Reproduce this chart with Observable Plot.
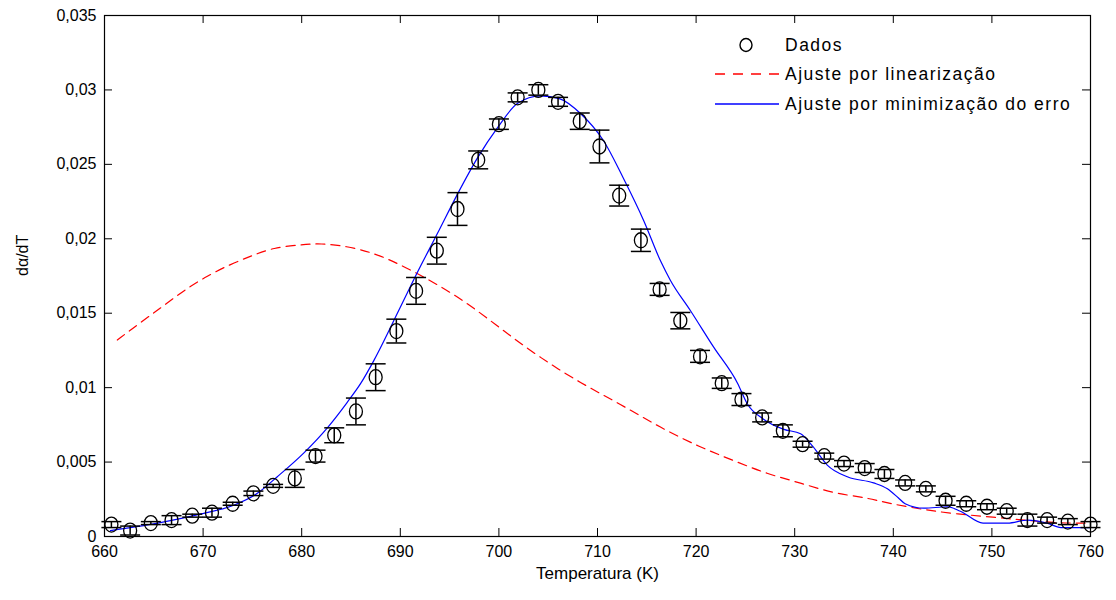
<!DOCTYPE html>
<html><head><meta charset="utf-8">
<script src="https://cdn.jsdelivr.net/npm/d3@7"></script>
<script src="https://cdn.jsdelivr.net/npm/@observablehq/plot@0.6"></script>
<style>
body{margin:0;background:#fff;}
#wrap{position:relative;width:1116px;height:600px;background:#fff;}
#legend{position:absolute;left:0;top:0;pointer-events:none;}
</style></head><body><div id="wrap"></div>
<script>
// Data points (Dados) with error bars
const tempData = [660.7,662.6,664.7,666.8,668.9,670.9,673.0,675.1,677.1,679.3,681.4,683.3,685.5,687.5,689.6,691.6,693.7,695.8,697.9,700.0,701.9,704.0,706.0,708.2,710.2,712.2,714.4,716.3,718.4,720.4,722.6,724.6,726.7,728.8,730.8,733.0,735.0,737.1,739.1,741.2,743.3,745.3,747.4,749.5,751.5,753.6,755.6,757.7,760.0];
const dadosY = [0.0008,0.0004,0.0009,0.0011,0.0014,0.0016,0.0022,0.0029,0.0034,0.0039,0.0054,0.0068,0.0084,0.0107,0.0138,0.0165,0.0192,0.0220,0.0253,0.0277,0.0295,0.0300,0.0292,0.0279,0.0262,0.0229,0.0199,0.0166,0.0145,0.0121,0.0103,0.0092,0.0080,0.0071,0.0062,0.0054,0.0049,0.0046,0.0042,0.0036,0.0032,0.0024,0.0022,0.0020,0.0017,0.0011,0.0011,0.0010,0.0008];
const dadosErr = [0.0002,0.0003,0.0001,0.0003,0.0001,0.0003,0.0001,0.00015,0.0001,0.0006,0.0004,0.0005,0.0009,0.0009,0.0008,0.0009,0.0009,0.0011,0.0006,0.00035,0.0003,0.00035,0.0003,0.00055,0.0011,0.0007,0.00075,0.0004,0.00055,0.0004,0.00035,0.0004,0.0003,0.0004,0.0002,0.0002,0.0002,0.0003,0.0003,0.0002,0.0002,0.0003,0.0002,0.0002,0.0002,0.0004,0.0002,0.0002,0.0002];

// Ajuste por linearização (red dashed)
const redX = [661.3,663.7,666.0,668.2,670.4,672.8,675.1,677.1,679.9,681.9,684.6,687.0,689.3,693.1,696.8,700.5,704.2,708.3,712.3,716.4,720.4,723.8,727.2,730.6,733.9,737.4,739.7,743.1,746.5,750.2,753.2,756.7,760.0];
const redY = [0.0132,0.0144,0.0155,0.0166,0.0175,0.0183,0.0189,0.0194,0.0196,0.0197,0.0195,0.0191,0.0185,0.0172,0.0157,0.0138,0.0120,0.0103,0.0089,0.0073,0.0060,0.0051,0.0042,0.0036,0.0029,0.0026,0.0022,0.0018,0.0015,0.0013,0.0011,0.0009,0.0009];

// Ajuste por minimização do erro (blue)
const blueX = [660.6,665.4,669.7,673.1,675.5,677.5,680.2,682.6,684.6,686.0,687.3,690.0,691.7,693.8,695.8,697.8,699.9,701.9,704.2,706.2,708.3,710.6,712.6,714.7,716.4,717.4,719.4,721.8,724.2,725.2,726.8,728.9,730.6,731.9,733.3,735.4,738.0,739.4,740.5,741.2,743.1,745.5,746.8,749.1,751.6,753.6,755.6,757.0,760.0];
const blueY = [0.0004,0.0009,0.0015,0.0021,0.0029,0.0040,0.0056,0.0073,0.0090,0.0103,0.0118,0.0154,0.0177,0.0204,0.0230,0.0254,0.0275,0.0291,0.0296,0.0294,0.0284,0.0266,0.0241,0.0212,0.0185,0.0172,0.0152,0.0127,0.0103,0.0089,0.0079,0.0072,0.0069,0.0060,0.0048,0.0040,0.0036,0.0032,0.0026,0.0022,0.0019,0.0020,0.0017,0.0009,0.0009,0.0011,0.0009,0.0006,0.0006];

const xTicks = [660,670,680,690,700,710,720,730,740,750,760];
const yTicks = [0,0.005,0.01,0.015,0.02,0.025,0.03,0.035];
const seriesNames = ["Dados","Ajuste por linearização","Ajuste por minimização do erro"];
const xLabel = "Temperatura (K)";
const yLabel = "dα/dT";

const pts = tempData.map((t,i)=>({t, y: dadosY[i], e: dadosErr[i]}));
const red = redX.map((x,i)=>({x, y: redY[i]}));
const blue = blueX.map((x,i)=>({x, y: blueY[i]}));

const W = 1116, H = 600, mL = 104, mR = 26, mT = 15, mB = 64;
const plotW = W - mL - mR, plotH = H - mT - mB;
const tickLen = 8;

const capSymbol = {draw(ctx){ ctx.moveTo(-10,0); ctx.lineTo(10,0); }};
const ellipseSymbol = {draw(ctx){
  const rx = 6.5, ry = 7.5, k = 0.5523;
  ctx.moveTo(rx,0);
  ctx.bezierCurveTo(rx,k*ry,k*rx,ry,0,ry);
  ctx.bezierCurveTo(-k*rx,ry,-rx,k*ry,-rx,0);
  ctx.bezierCurveTo(-rx,-k*ry,-k*rx,-ry,0,-ry);
  ctx.bezierCurveTo(k*rx,-ry,rx,-k*ry,rx,0);
  ctx.closePath();
}};
const fmtY = d => d === 0 ? "0" : String(+d.toFixed(3)).replace(".", ",");

const chart = Plot.plot({
  width: W, height: H,
  marginLeft: mL, marginRight: mR, marginTop: mT, marginBottom: mB,
  style: {fontFamily: "'Liberation Sans', Arial, sans-serif", fontSize: "16px", background: "#fff", color: "#000"},
  x: {domain: [660,760]},
  y: {domain: [0,0.035]},
  marks: [
    Plot.line(red, {x:"x", y:"y", stroke:"#ff0000", strokeWidth:1.2, strokeDasharray:"9,6", curve:"basis"}),
    Plot.line(blue, {x:"x", y:"y", stroke:"#0000ff", strokeWidth:1.2, curve:"monotone-x"}),
    Plot.ruleX(pts, {x:"t", y1: d=>d.y-d.e, y2: d=>d.y+d.e, stroke:"#000", strokeWidth:1.5}),
    Plot.dot(pts, {x:"t", y: d=>d.y+d.e, symbol: capSymbol, stroke:"#000", strokeWidth:1.5, fill:"none"}),
    Plot.dot(pts, {x:"t", y: d=>d.y-d.e, symbol: capSymbol, stroke:"#000", strokeWidth:1.5, fill:"none"}),
    Plot.dot(pts, {x:"t", y:"y", symbol: ellipseSymbol, stroke:"#000", strokeWidth:1.3, fill:"none"}),
    Plot.tickX(xTicks, {x: d=>d, insetTop: plotH - tickLen, stroke:"#000"}),
    Plot.tickX(xTicks, {x: d=>d, insetBottom: plotH - tickLen, stroke:"#000"}),
    Plot.tickY(yTicks, {y: d=>d, insetRight: plotW - tickLen, stroke:"#000"}),
    Plot.tickY(yTicks, {y: d=>d, insetLeft: plotW - tickLen, stroke:"#000"}),
    Plot.frame({stroke:"#000", strokeWidth:1.2}),
    Plot.axisX({ticks: xTicks, tickSize: 0, tickPadding: 9, tickFormat: d=>String(d), label: null, fontSize: 16}),
    Plot.axisY({ticks: yTicks, tickSize: 0, tickPadding: 8, tickFormat: fmtY, label: null, fontSize: 16}),
    Plot.text([xLabel], {frameAnchor: "bottom", dy: 42, text: d=>d, fontSize: 17, fill:"#000"}),
    Plot.text([yLabel], {frameAnchor: "left", dx: -82, rotate: -90, text: d=>d, fontSize: 16, fill:"#000"})
  ]
});
const wrap = document.getElementById("wrap");
wrap.appendChild(chart);

// Legend overlay (inside plot area, top-right)
const ns = "http://www.w3.org/2000/svg";
const lg = document.createElementNS(ns, "svg");
lg.setAttribute("id","legend"); lg.setAttribute("width", W); lg.setAttribute("height", H);
const legendItems = [
  {name: seriesNames[0], kind: "marker", y: 45},
  {name: seriesNames[1], kind: "dash", y: 74, color: "#ff0000"},
  {name: seriesNames[2], kind: "solid", y: 104, color: "#0000ff"}
];
for (const it of legendItems) {
  if (it.kind === "marker") {
    const c = document.createElementNS(ns, "ellipse");
    c.setAttribute("cx", 746); c.setAttribute("cy", it.y); c.setAttribute("rx", 6); c.setAttribute("ry", 6.5);
    c.setAttribute("fill","none"); c.setAttribute("stroke","#000"); c.setAttribute("stroke-width","1.4");
    lg.appendChild(c);
  } else {
    const l = document.createElementNS(ns, "line");
    l.setAttribute("x1", 715); l.setAttribute("x2", 779); l.setAttribute("y1", it.y); l.setAttribute("y2", it.y);
    l.setAttribute("stroke", it.color); l.setAttribute("stroke-width","1.3");
    if (it.kind === "dash") l.setAttribute("stroke-dasharray","10,8");
    lg.appendChild(l);
  }
  const t = document.createElementNS(ns, "text");
  t.setAttribute("x", 785); t.setAttribute("y", it.y); t.setAttribute("dy","0.35em");
  t.setAttribute("font-family","'Liberation Sans', Arial, sans-serif");
  t.setAttribute("font-size","17.5"); t.setAttribute("letter-spacing","1.5");
  t.setAttribute("fill","#000");
  t.textContent = it.name;
  lg.appendChild(t);
}
wrap.appendChild(lg);
</script></body></html>
